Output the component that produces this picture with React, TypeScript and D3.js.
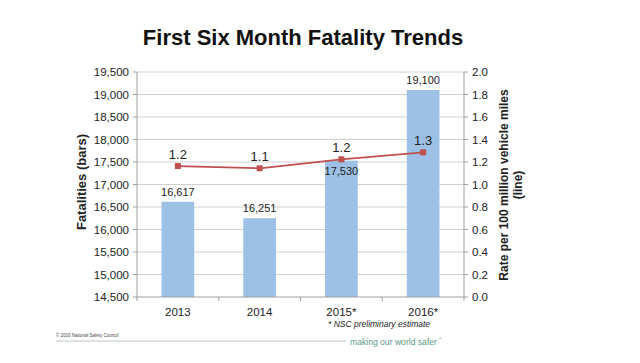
import React from "react";
import * as d3 from "d3";

const categories = ["2013", "2014", "2015*", "2016*"];
const fatalities = [16617, 16251, 17530, 19100];
const fatalityLabels = ["16,617", "16,251", "17,530", "19,100"];
const rates = [1.164, 1.144, 1.224, 1.286];
const rateLabels = ["1.2", "1.1", "1.2", "1.3"];
const leftTicks = [14500, 15000, 15500, 16000, 16500, 17000, 17500, 18000, 18500, 19000, 19500];
const rightTicks = [0, 0.2, 0.4, 0.6, 0.8, 1.0, 1.2, 1.4, 1.6, 1.8, 2.0];
// label placement: above bar (true) or inside below top (false)
const labelAbove = [true, true, false, true];

export default function App() {
  const W = 640, H = 363;
  const left = 137, right = 464, top = 72, bottom = 297;
  const x = d3.scaleBand().domain(categories).range([left, right]).paddingInner(0.6).paddingOuter(0.3);
  const xOuter = d3.scaleBand().domain(categories).range([left, right]);
  const yL = d3.scaleLinear().domain([14500, 19500]).range([bottom, top]);
  const yR = d3.scaleLinear().domain([0, 2]).range([bottom, top]);
  const fmtL = d3.format(",");
  const fmtR = d3.format(".1f");
  const font = "Liberation Sans, Arial, Helvetica, sans-serif";
  const line = d3.line<number>()
    .x((_, i) => xOuter(categories[i])! + xOuter.bandwidth() / 2)
    .y((d) => yR(d));
  const gridColor = "#d0d0d0";
  const axisColor = "#a0a0a0";
  return (
    <svg width={W} height={H} style={{ position: "absolute", left: 0, top: 0, background: "#fff" }} fontFamily={font}>
      <rect width={W} height={H} fill="#fff" />
      <text x={303} y={45} textAnchor="middle" fontSize={22} fontWeight="bold" fill="#111">First Six Month Fatality Trends</text>
      {leftTicks.map((t) => (
        <g key={"l" + t}>
          {t !== 14500 && <line x1={left} x2={right} y1={yL(t)} y2={yL(t)} stroke={gridColor} strokeWidth={1} />}
          <line x1={left - 4} x2={left} y1={yL(t)} y2={yL(t)} stroke={axisColor} />
          <text x={129} y={yL(t) + 4} textAnchor="end" fontSize={11.5} fill="#222">{fmtL(t)}</text>
        </g>
      ))}
      {rightTicks.map((t) => (
        <g key={"r" + t}>
          <line x1={right} x2={right + 4} y1={yR(t)} y2={yR(t)} stroke={axisColor} />
          <text x={472} y={yR(t) + 4} textAnchor="start" fontSize={11.5} fill="#222">{fmtR(t)}</text>
        </g>
      ))}
      {fatalities.map((v, i) => (
        <rect key={"b" + i} x={x(categories[i])!} y={yL(v)} width={x.bandwidth()} height={bottom - yL(v)} fill="#9dc0e6" />
      ))}
      <line x1={left} x2={left} y1={top} y2={bottom} stroke={axisColor} />
      <line x1={right} x2={right} y1={top} y2={bottom} stroke={axisColor} />
      <line x1={left} x2={right} y1={bottom} y2={bottom} stroke={axisColor} />
      {categories.map((c, i) => (
        <g key={"x" + c}>
          <line x1={xOuter(c)!} x2={xOuter(c)!} y1={bottom} y2={bottom + 4} stroke={axisColor} />
          {i === categories.length - 1 && <line x1={right} x2={right} y1={bottom} y2={bottom + 4} stroke={axisColor} />}
          <text x={xOuter(c)! + xOuter.bandwidth() / 2} y={316} textAnchor="middle" fontSize={11.5} fill="#222">{c}</text>
        </g>
      ))}
      {fatalities.map((v, i) => (
        <text key={"bl" + i} x={x(categories[i])! + x.bandwidth() / 2} y={labelAbove[i] ? yL(v) - 6 : yL(v) + 14} textAnchor="middle" fontSize={11} fill="#222">{fatalityLabels[i]}</text>
      ))}
      <path d={line(rates)!} fill="none" stroke="#c0504d" strokeWidth={1.8} />
      {rates.map((r, i) => {
        const cx = xOuter(categories[i])! + xOuter.bandwidth() / 2;
        return (
          <g key={"p" + i}>
            <rect x={cx - 3} y={yR(r) - 3} width={6} height={6} fill="#c0504d" />
            <text x={cx} y={yR(r) - 7} textAnchor="middle" fontSize={13} fill="#222">{rateLabels[i]}</text>
          </g>
        );
      })}
      <text transform={`translate(86,182) rotate(-90)`} textAnchor="middle" fontSize={13} fontWeight="bold" fill="#222">Fatalities (bars)</text>
      <text transform={`translate(508,185) rotate(-90)`} textAnchor="middle" fontSize={12} fontWeight="bold" fill="#222">Rate per 100 million vehicle miles</text>
      <text transform={`translate(522,185) rotate(-90)`} textAnchor="middle" fontSize={12} fontWeight="bold" fill="#222">(line)</text>
      <text x={328} y={327} fontSize={8.5} fontStyle="italic" fill="#222">* NSC preliminary estimate</text>
      <text x={56} y={337} fontSize={4.5} fill="#444">© 2016 National Safety Council</text>
      <line x1={56} x2={346} y1={341} y2={341} stroke="#b8c4c0" strokeWidth={1} />
      <text x={350} y={345} fontSize={8.6} fill="#5a9a8a">making our world safer</text>
      <text x={439} y={340} fontSize={3.5} fill="#5a9a8a">®</text>
    </svg>
  );
}
